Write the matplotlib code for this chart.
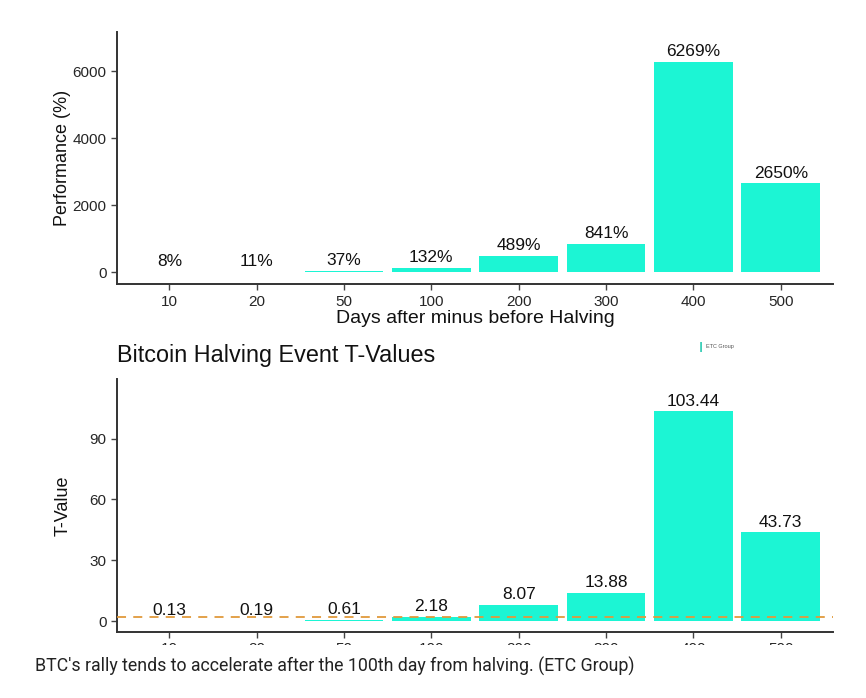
import numpy as np
import matplotlib
matplotlib.use("Agg")
import matplotlib.pyplot as plt
from matplotlib.patches import Rectangle

# data
days = ["10", "20", "50", "100", "200", "300", "400", "500"]
performance = [8, 11, 37, 132, 489, 841, 6269, 2650]
t_values = [0.13, 0.19, 0.61, 2.18, 8.07, 13.88, 103.44, 43.73]
t_critical = 1.96

BAR = "#1cf5d4"
INK = "#262626"
plt.rcParams["font.family"] = ["Liberation Sans", "DejaVu Sans"]

fig = plt.figure(figsize=(8.66, 6.98), dpi=100)
ax1 = fig.add_axes([0.135, 0.593, 0.827, 0.361])
ax2 = fig.add_axes([0.135, 0.0946, 0.827, 0.363])

x = np.arange(len(days))


def style(ax):
    for s in ("top", "right"):
        ax.spines[s].set_visible(False)
    for s in ("left", "bottom"):
        ax.spines[s].set_color("#333333")
        ax.spines[s].set_linewidth(1.4)
    ax.tick_params(colors="#444444", labelcolor=INK, labelsize=11, length=4, width=1)
    ax.set_xlim(-0.6, 7.6)
    ax.set_xticks(x)
    ax.set_xticklabels(days)


# top panel: performance
ax1.bar(x, performance, width=0.9, color=BAR)
for xi, v in zip(x, performance):
    ax1.annotate(f"{v}%", (xi, v), xytext=(0, 2), textcoords="offset points",
                 ha="center", va="bottom", fontsize=12.5, color="#111111")
style(ax1)
ax1.set_ylim(-358, 7164)
ax1.set_yticks([0, 2000, 4000, 6000])
ax1.set_ylabel("Performance (%)", fontsize=13, color="#111111", labelpad=1)
ax1.set_xlabel("Days after minus before Halving", fontsize=14, color="#111111", labelpad=1)

# bottom panel: t-values
ax2.bar(x, t_values, width=0.9, color=BAR)
ax2.axhline(t_critical, color="#e09a3c", linestyle=(0, (5, 4)), linewidth=1.3, zorder=3)
for xi, v in zip(x, t_values):
    ax2.annotate(f"{v:.2f}", (xi, v), xytext=(0, 2), textcoords="offset points",
                 ha="center", va="bottom", fontsize=12.5, color="#111111")
style(ax2)
ax2.set_ylim(-5.4, 119.6)
ax2.set_yticks([0, 30, 60, 90])
ax2.set_ylabel("T-Value", fontsize=13, color="#111111", labelpad=13)
ax2.set_title("Bitcoin Halving Event T-Values", loc="left", fontsize=16.8,
              color="#111111", x=-0.0, pad=12)

# small logo
fig.text(0.805, 0.503, "\u2759", color="#25c9b0", fontsize=7, ha="left", va="center")
fig.text(0.815, 0.503, "ETC Group", color="#555555", fontsize=4, ha="left", va="center")

# crop of the lower tick labels, then caption
fig.patches.append(Rectangle((0, 0), 1, 1 - 645 / 698, transform=fig.transFigure,
                             facecolor="white", edgecolor="none", zorder=10))
fig.text(35 / 866, 1 - 666 / 698,
         "BTC's rally tends to accelerate after the 100th day from halving. (ETC Group)",
         fontsize=12.8, color="#222222", family=["Roboto", "DejaVu Sans"],
         ha="left", va="center", zorder=11)

fig.savefig("out.png", dpi=100, facecolor="white")
